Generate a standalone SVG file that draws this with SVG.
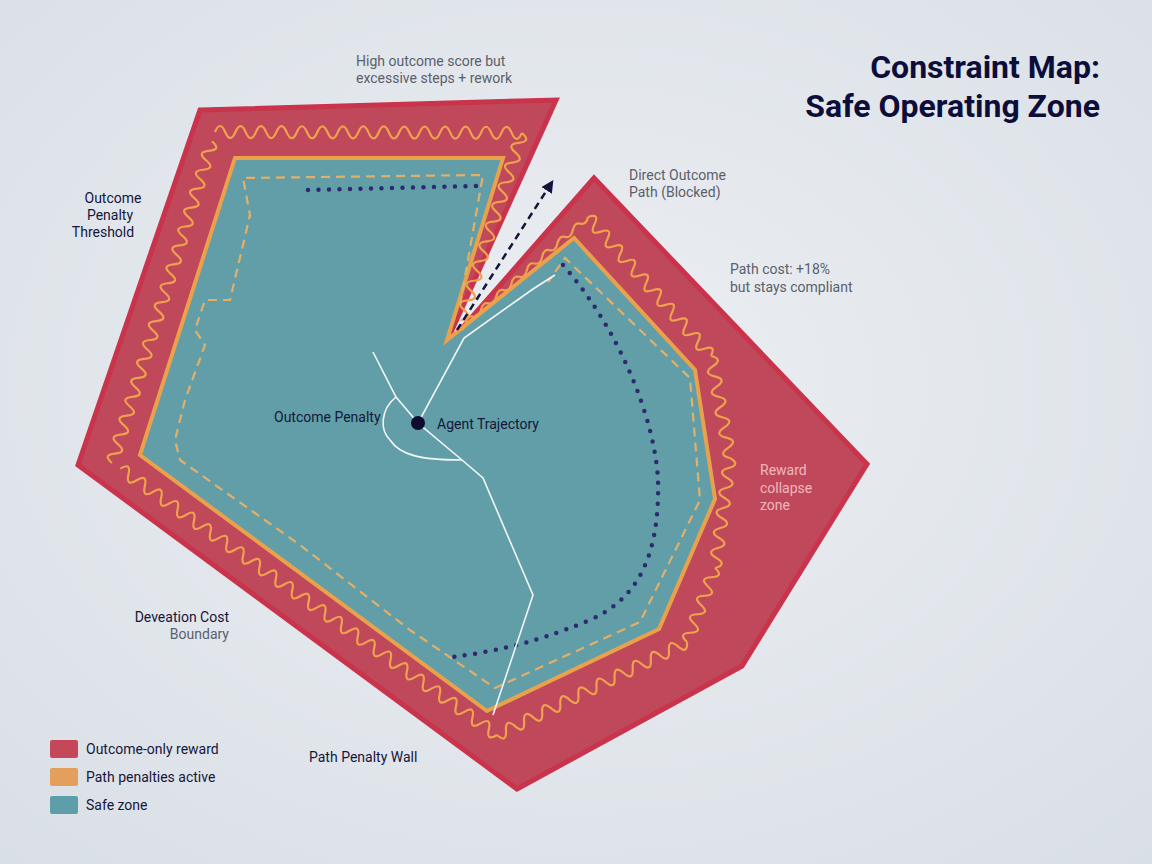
<svg xmlns="http://www.w3.org/2000/svg" width="1152" height="864" viewBox="0 0 1152 864">
<defs>
<radialGradient id="bg" cx="0.5" cy="0.45" r="0.75"><stop offset="0" stop-color="#eceff3"/><stop offset="1" stop-color="#d9dfe6"/></radialGradient>
<marker id="ah" viewBox="0 0 10 10" refX="8" refY="5" markerWidth="5" markerHeight="5" orient="auto"><path d="M0,0L10,5L0,10z" fill="#14143a"/></marker>
<style>
text{font-family:Roboto,"Liberation Sans",sans-serif;}
.lbl{font-size:14px;fill:#16163a;}
.gray{font-size:14px;fill:#5a5f6a;}
.wave{fill:none;stroke:#eea24e;stroke-width:2.2;}
.dash{fill:none;stroke:#e2b06a;stroke-width:2.2;stroke-dasharray:9 6;}
.dots{fill:none;stroke:#2d2a70;stroke-width:4.5;stroke-linecap:round;stroke-dasharray:0 10.5;}
.traj{fill:none;stroke:#f4f7f8;stroke-width:1.6;}
</style>
</defs>
<rect width="1152" height="864" fill="url(#bg)"/>
<polygon points="200,110 556,100 443,350 594,178 867,464 742,666 517,789 78,465" fill="#bf485b" stroke="#c9334b" stroke-width="5" stroke-linejoin="miter"/>
<polygon points="235,158 503,158 447,340 574,238 695,370 715,499 659,629 487,711 140,455" fill="#619ea8" stroke="#e9a14c" stroke-width="4"/>
<path class="wave" d="M215,132 q5.1,-12 10.2,0 t10.23,0.03 10.23,0.03 10.23,0.03 10.23,0.03 10.23,0.03 10.23,0.03 10.23,0.03 10.23,0.03 10.23,0.03 10.23,0.03 10.23,0.03 10.23,0.03 10.23,0.03 10.23,0.03 10.23,0.03 10.23,0.03 10.23,0.03 10.23,0.03 10.23,0.03 10.23,0.03 10.23,0.03 10.23,0.03 10.23,0.03 10.23,0.03 10.23,0.03 10.23,0.03 10.23,0.03 10.23,0.03 10.23,0.03
M522,133 q9.8,8.6 -3.2,9.85 t-3.2,9.85 -3.2,9.85 -3.2,9.85 -3.2,9.85 -3.2,9.85 -3.2,9.85 -3.2,9.85 -3.2,9.85 -3.2,9.85 -3.2,9.85 -3.2,9.85 -3.2,9.85 -3.2,9.85 -3.2,9.85 -3.2,9.85 -3.2,9.85 -3.2,9.85 -3.2,9.85
M458,330 q6,1.5 7.65,-6.65 t7.65,-6.65 7.65,-6.65 7.65,-6.65 7.65,-6.65 7.65,-6.65 7.65,-6.65 7.65,-6.65 7.65,-6.65 7.65,-6.65 7.65,-6.65 7.65,-6.65 7.65,-6.65 7.65,-6.65 7.65,-6.65 7.65,-6.65 7.65,-6.65
M588,217 q12.2,-4.2 6.47,7.32 t6.47,7.32 6.47,7.32 6.47,7.32 6.47,7.32 6.47,7.32 6.47,7.32 6.47,7.32 6.47,7.32 6.47,7.32 6.47,7.32 6.47,7.32 6.47,7.32 6.47,7.32 6.47,7.32 6.47,7.32 6.47,7.32 6.47,7.32 6.47,7.32
M711,356 q12.7,2.9 1.9,10.2 t1.9,10.2 1.9,10.2 1.9,10.2 1.9,10.2 1.9,10.2 1.9,10.2 1.9,10.2 1.9,10.2 1.9,10.2
M730,458 q11.2,6.6 -1.36,10 t-1.36,10 -1.36,10 -1.36,10 -1.36,10 -1.36,10 -1.36,10 -1.36,10 -1.36,10 -1.36,10 -1.36,10
M715,568 q9.55,8.8 -3.5,9.25 t-3.5,9.25 -3.5,9.25 -3.5,9.25 -3.5,9.25 -3.5,9.25 -3.5,9.25 -3.5,9.25
M687,642 q0.8,13 -9.05,4.43 t-9.05,4.43 -9.05,4.43 -9.05,4.43 -9.05,4.43 -9.05,4.43 -9.05,4.43 -9.05,4.43 -9.05,4.43 -9.05,4.43 -9.05,4.43 -9.05,4.43 -9.05,4.43 -9.05,4.43 -9.05,4.43 -9.05,4.43 -9.05,4.43 -9.05,4.43 -9.05,4.43 -9.05,4.43 -9.05,4.43
M497,735 q-11.1,6.9 -8.19,-5.79 t-8.19,-5.79 -8.19,-5.79 -8.19,-5.79 -8.19,-5.79 -8.19,-5.79 -8.19,-5.79 -8.19,-5.79 -8.19,-5.79 -8.19,-5.79 -8.19,-5.79 -8.19,-5.79 -8.19,-5.79 -8.19,-5.79 -8.19,-5.79 -8.19,-5.79 -8.19,-5.79 -8.19,-5.79 -8.19,-5.79 -8.19,-5.79 -8.19,-5.79 -8.19,-5.79 -8.19,-5.79 -8.19,-5.79 -8.19,-5.79 -8.19,-5.79 -8.19,-5.79 -8.19,-5.79 -8.19,-5.79 -8.19,-5.79 -8.19,-5.79 -8.19,-5.79 -8.19,-5.79 -8.19,-5.79 -8.19,-5.79 -8.19,-5.79 -8.19,-5.79 -8.19,-5.79 -8.19,-5.79 -8.19,-5.79 -8.19,-5.79 -8.19,-5.79 -8.19,-5.79 -8.19,-5.79 -8.19,-5.79 -8.19,-5.79
M112,463 q-9.9,-8.3 2.94,-9.46 t2.94,-9.46 2.94,-9.46 2.94,-9.46 2.94,-9.46 2.94,-9.46 2.94,-9.46 2.94,-9.46 2.94,-9.46 2.94,-9.46 2.94,-9.46 2.94,-9.46 2.94,-9.46 2.94,-9.46 2.94,-9.46 2.94,-9.46 2.94,-9.46 2.94,-9.46 2.94,-9.46 2.94,-9.46 2.94,-9.46 2.94,-9.46 2.94,-9.46 2.94,-9.46 2.94,-9.46 2.94,-9.46 2.94,-9.46 2.94,-9.46 2.94,-9.46 2.94,-9.46 2.94,-9.46 2.94,-9.46 2.94,-9.46 2.94,-9.46"/>
<path class="dash" d="M460,305 L483,175 L243,178 L250,215 L230,300 L205,300 L195,330 L205,345 L185,400 L175,440 L180,460 L300,545 L410,630 L495,688 L640,622 L700,500 L690,378 L565,258 L548,282"/>
<path class="dots" d="M308,190 L478,186"/>
<path class="dots" d="M563,265 C620,330 655,420 658,480 C660,560 635,600 590,620 C530,645 490,652 452,657"/>
<g id="trajectory">
<path class="traj" d="M555,275 L533,289 L464,338 L418,423 L462,460 L483,478 L533,595 L493,715"/>
<path class="traj" d="M373,352 L396,397 L418,423"/>
<path class="traj" d="M396,397 C380,410 380,430 390,440 C400,455 420,460 462,460"/>
<circle cx="418" cy="423" r="7" fill="#0e0b30"/>
</g>
<g id="connectors"><path d="M457,330 L552,182" fill="none" stroke="#14143a" stroke-width="2.5" stroke-dasharray="7 5" marker-end="url(#ah)"/></g>
<text x="1100" y="78" text-anchor="end" font-size="32" font-weight="bold" fill="#0d0d3a">Constraint Map:</text>
<text x="1100" y="117" text-anchor="end" font-size="32" font-weight="bold" fill="#0d0d3a">Safe Operating Zone</text>
<text class="gray" x="356" y="66">High outcome score but</text>
<text class="gray" x="356" y="83">excessive steps + rework</text>
<text class="gray" x="629" y="180">Direct Outcome</text>
<text class="gray" x="629" y="197">Path (Blocked)</text>
<text class="gray" x="730" y="274">Path cost: +18%</text>
<text class="gray" x="730" y="292">but stays compliant</text>
<text x="760" y="475" font-size="14" fill="#f2b8bc">Reward</text>
<text x="760" y="493" font-size="14" fill="#f2b8bc">collapse</text>
<text x="760" y="510" font-size="14" fill="#f2b8bc">zone</text>
<text class="lbl" x="113" y="203" text-anchor="middle">Outcome</text>
<text class="lbl" x="110" y="220" text-anchor="middle">Penalty</text>
<text class="lbl" x="103" y="237" text-anchor="middle">Threshold</text>
<text class="lbl" x="274" y="422">Outcome Penalty</text>
<text class="lbl" x="437" y="429">Agent Trajectory</text>
<text class="lbl" x="229" y="622" text-anchor="end">Deveation Cost</text>
<text class="gray" x="229" y="639" text-anchor="end">Boundary</text>
<text class="lbl" x="309" y="762">Path Penalty Wall</text>
<g id="legend">
<rect x="50" y="740" width="28" height="18" rx="2" fill="#c4475a"/>
<rect x="50" y="768" width="28" height="18" rx="2" fill="#e3a05c"/>
<rect x="50" y="796" width="28" height="18" rx="2" fill="#5e9ea8"/>
<text class="lbl" x="86" y="754">Outcome-only reward</text>
<text class="lbl" x="86" y="782">Path penalties active</text>
<text class="lbl" x="86" y="810">Safe zone</text>
</g>
</svg>
